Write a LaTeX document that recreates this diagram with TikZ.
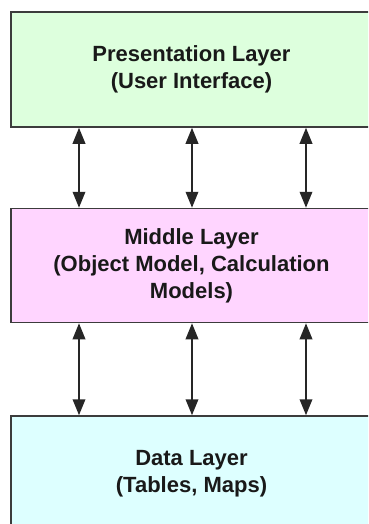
\documentclass[tikz,border=0pt]{standalone}
\usepackage{fontspec}
\setmainfont{Liberation Sans}
\usetikzlibrary{arrows.meta}
\definecolor{pgreen}{RGB}{221,255,221}
\definecolor{ppink}{RGB}{255,213,255}
\definecolor{pcyan}{RGB}{221,255,255}
\definecolor{edge}{RGB}{60,60,60}
\tikzset{
  layer/.style={draw=edge, line width=1.5pt, rectangle, minimum width=361pt, minimum height=115pt, align=center, inner sep=0pt,
    font=\fontsize{22}{27}\selectfont\bfseries, text=black!90},
  link/.style={draw=black!85, line width=2pt, {Triangle[length=16pt,width=12.5pt]}-{Triangle[length=16pt,width=12.5pt]}}
}
\begin{document}
\begin{tikzpicture}[x=1pt,y=-1pt]
\useasboundingbox (0,0) rectangle (368,524);
\begin{scope}
\clip (0,0) rectangle (368,524);
\node[layer, fill=pgreen] (top) at (191.5,69.5) {Presentation Layer\\(User Interface)};
\node[layer, fill=ppink, minimum height=114pt] (mid) at (191.5,265.5) {Middle Layer\\(Object Model, Calculation\\Models)};
\node[layer, fill=pcyan, minimum height=116pt] (bot) at (191.5,474) {Data Layer\\(Tables, Maps)};
\end{scope}
\coordinate (c1) at (79,0);
\coordinate (c2) at (192,0);
\coordinate (c3) at (306,0);
\foreach \c in {c1,c2,c3}{
  \draw[link] (top.south -| \c) -- (mid.north -| \c);
  \draw[link] (mid.south -| \c) -- (bot.north -| \c);
}
\end{tikzpicture}
\end{document}
